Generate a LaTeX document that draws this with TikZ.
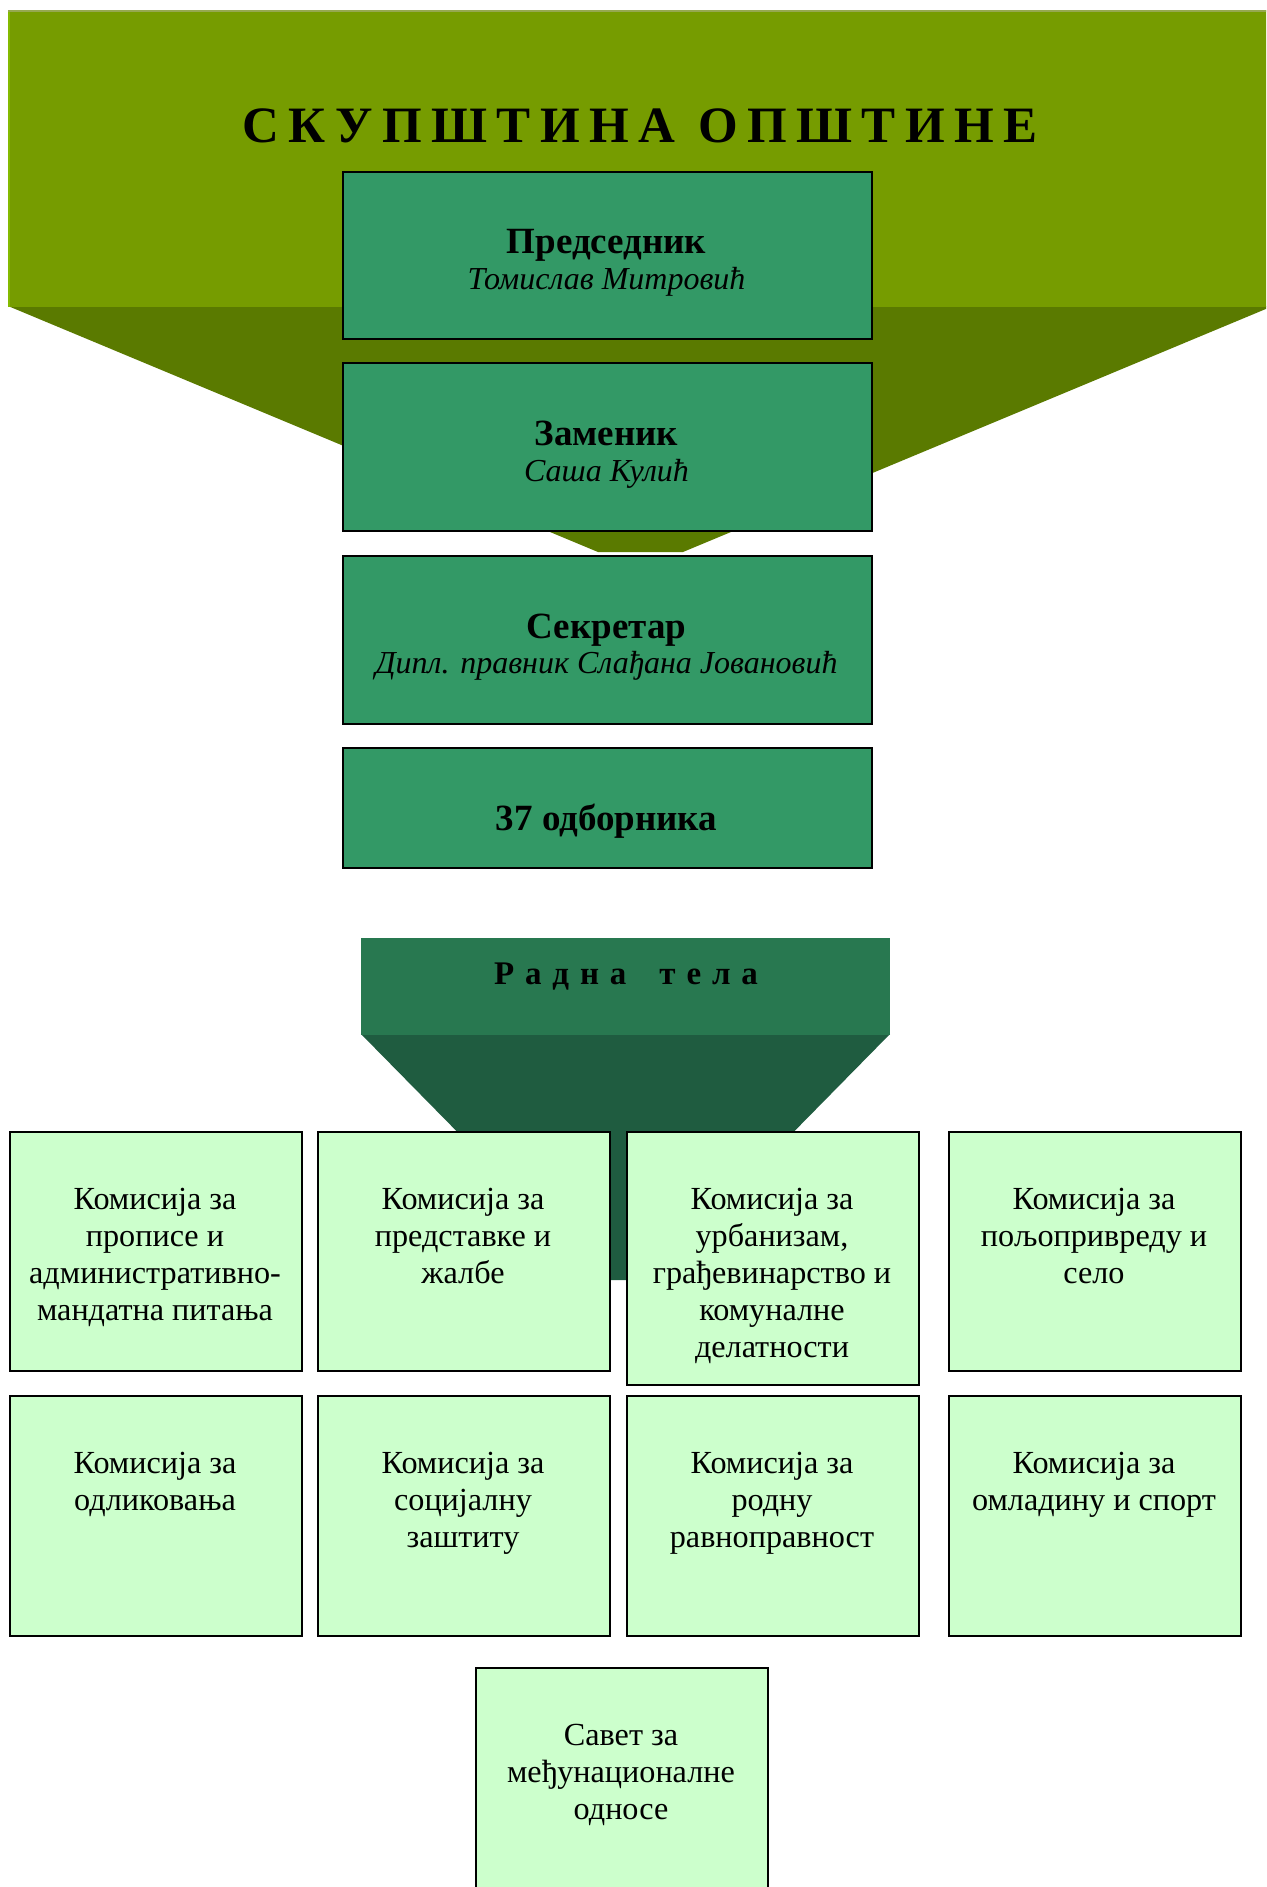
\documentclass[tikz,border=0pt]{standalone}
\usepackage{fontspec}
\setmainfont{Liberation Serif}
\definecolor{topband}{RGB}{118,156,0}
\definecolor{topedge}{RGB}{150,168,80}
\definecolor{leftedge}{RGB}{132,186,0}
\definecolor{topfunnel}{RGB}{90,122,0}
\definecolor{boxgreen}{RGB}{51,153,102}
\definecolor{radna}{RGB}{40,120,80}
\definecolor{radnafunnel}{RGB}{31,92,64}
\definecolor{kom}{RGB}{204,255,204}
\tikzset{
  mainbox/.style={draw=black, line width=1.1pt, fill=boxgreen, inner sep=0pt, minimum width=264.5pt},
  kombox/.style={draw=black, line width=1.1pt, fill=kom, inner sep=0pt, minimum width=146pt},
  ktext/.style={align=center, inner sep=0pt, font=\fontsize{16.1}{18.5}\selectfont},
  boldt/.style={inner sep=0pt, font=\fontsize{18.5}{20}\selectfont\bfseries},
  italt/.style={inner sep=0pt, font=\fontsize{16}{18}\selectfont\itshape},
}
% name, x, y, height(px), lines, text
\newcommand\kbox[6]{%
  \node[kombox, anchor=north west, minimum height=#4*0.5pt] (#1) at (#2,#3) {};
  \node[ktext, anchor=base] (#1t) at (#2+146,#3+78+#5*37-37) {#6};}
\newcommand\mylg{\hspace{0.185em}}
\newcommand\myrg{\hspace{0.33em}}
\begin{document}
\begin{tikzpicture}[x=0.5pt,y=-0.5pt]
\useasboundingbox (0,0) rectangle (1266,1887);
\clip (0,0) rectangle (1266,1887);
% top band and funnel
\fill[topfunnel] (8,306) -- (598,552) -- (683,552) -- (1273,306) -- cycle;
\fill[topband] (8,10) rectangle (1273,307);
\fill[topedge] (8,10) rectangle (1273,12);
\fill[leftedge] (8,12) rectangle (10,307);
\node[boldt, anchor=base, font=\fontsize{25.5}{28}\selectfont\bfseries] (title) at (640,142) {С\mylg К\mylg У\mylg П\mylg Ш\mylg Т\mylg И\mylg Н\mylg А\hspace{0.45em}О\mylg П\mylg Ш\mylg Т\mylg И\mylg Н\mylg Е};
% main boxes
\node[mainbox, anchor=north west, minimum height=83.5pt] (pred) at (342,171) {};
\node[boldt, anchor=base] (predt) at (606.5,253) {Председник};
\node[italt, anchor=base] (predn) at (606.5,289) {Томислав Митровић};
\node[mainbox, anchor=north west, minimum height=84pt] (zam) at (342,362) {};
\node[boldt, anchor=base] (zamt) at (606.5,445) {Заменик};
\node[italt, anchor=base] (zamn) at (606.5,481) {Саша Кулић};
\node[mainbox, anchor=north west, minimum height=84pt] (sek) at (342,555) {};
\node[boldt, anchor=base] (sekt) at (606.5,638) {Секретар};
\node[italt, anchor=base] (sekn) at (606.5,673) {Дипл. правник Слађана Јовановић};
\node[mainbox, anchor=north west, minimum height=60pt] (odb) at (342,747) {};
\node[boldt, anchor=base] (odbt) at (606.5,830) {37 одборника};
% radna tela
\fill[radnafunnel] (361,1034) -- (603,1280) -- (648,1280) -- (890,1034) -- cycle;
\fill[radna] (361,938) rectangle (890,1035);
\node[boldt, anchor=base, font=\fontsize{16.5}{20}\selectfont\bfseries] (radt) at (626,984) {Р\myrg а\myrg д\myrg н\myrg а\hspace{1.0em}т\myrg е\myrg л\myrg а};
% commission boxes
\kbox{kA}{9}{1131}{239}{4}{Комисија за\\прописе и\\административно-\\мандатна питања}
\kbox{kB}{317}{1131}{239}{3}{Комисија за\\представке и\\жалбе}
\kbox{kC}{626}{1131}{253}{5}{Комисија за\\урбанизам,\\грађевинарство и\\комуналне\\делатности}
\kbox{kD}{948}{1131}{239}{3}{Комисија за\\пољопривреду и\\село}
\kbox{kE}{9}{1395}{240}{2}{Комисија за\\одликовања}
\kbox{kF}{317}{1395}{240}{3}{Комисија за\\социјалну\\заштиту}
\kbox{kG}{626}{1395}{240}{3}{Комисија за\\родну\\равноправност}
\kbox{kH}{948}{1395}{240}{2}{Комисија за\\омладину и спорт}
\kbox{sav}{475}{1667}{280}{3}{Савет за\\међунационалне\\односе}
\end{tikzpicture}
\end{document}
